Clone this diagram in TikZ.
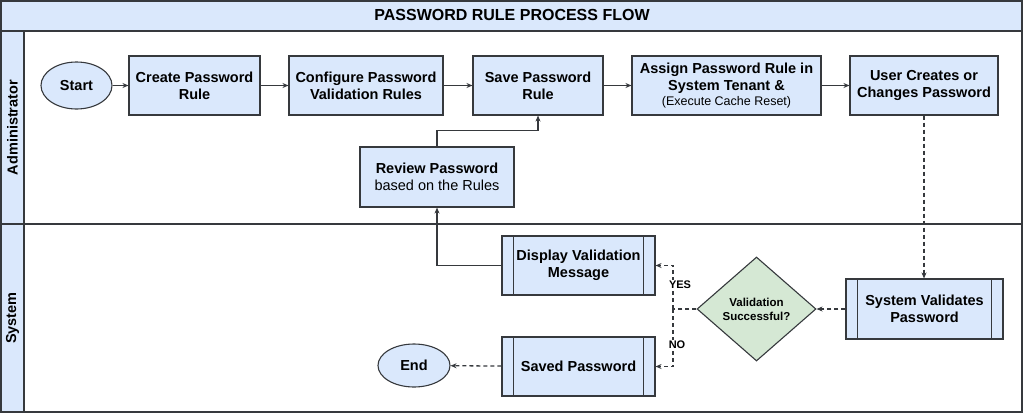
\documentclass[tikz,border=0pt]{standalone}
\usepackage{fontspec}
\setmainfont{Liberation Sans}
\usetikzlibrary{shapes.geometric,arrows.meta}

\definecolor{laneblue}{HTML}{DAE8FC}
\definecolor{decgreen}{HTML}{D5E8D4}
\definecolor{edge}{HTML}{36393D}

\tikzset{
  proc/.style={draw=edge, line width=1.1pt, fill=laneblue, rectangle, align=center,
    minimum height=59pt, inner sep=0pt, font=\fontsize{14.5}{17}\selectfont\bfseries},
  subproc/.style={proc, path picture={
    \draw[edge, line width=1.1pt] ([xshift=11.5pt]path picture bounding box.north west) -- ([xshift=11.5pt]path picture bounding box.south west);
    \draw[edge, line width=1.1pt] ([xshift=-11.5pt]path picture bounding box.north east) -- ([xshift=-11.5pt]path picture bounding box.south east);}},
  term/.style={draw=edge, line width=1.1pt, fill=laneblue, ellipse, inner sep=0pt,
    font=\fontsize{14.5}{17}\selectfont\bfseries},
  decision/.style={draw=edge, line width=1.1pt, fill=decgreen, diamond, inner sep=0pt, align=center,
    minimum width=119pt, minimum height=104pt, font=\fontsize{11.5}{14}\selectfont\bfseries},
  flow/.style={draw=edge, line width=1.1pt, -{Stealth[length=6pt,width=5pt]}},
  dflow/.style={flow, line width=1.3pt, dash pattern=on 4pt off 3pt},
  lbl/.style={fill=white, inner sep=1pt, font=\fontsize{11}{13}\selectfont\bfseries},
}

\begin{document}
\begin{tikzpicture}[x=1pt, y=-1pt]
    \useasboundingbox (0,0) rectangle (1024,415);

    % pool and lanes
    \fill[laneblue] (1,1) rectangle (1022,31);
    \fill[laneblue] (1,31) rectangle (24,412);
    \draw[edge, line width=1.6pt] (1,1) rectangle (1022,412);
    \draw[edge, line width=1.6pt] (1,31) -- (1022,31);
    \draw[edge, line width=1.3pt] (1,224) -- (1022,224);
    \draw[edge, line width=1.3pt] (24,31) -- (24,412);
    \node (title) at (512,15) {\fontsize{16}{18}\selectfont\bfseries PASSWORD RULE PROCESS FLOW};
    \node[rotate=90] (admin) at (12.5,127.5) {\fontsize{14.5}{17}\selectfont\bfseries Administrator};
    \node[rotate=90] (system) at (12.5,318) {\fontsize{14.5}{17}\selectfont\bfseries System};

    % administrator lane
    \node[term, minimum width=71pt, minimum height=47pt] (start) at (76.5,85.5) {Start};
    \node[proc, minimum width=131pt] (create) at (194.5,85.5) {Create Password\\Rule};
    \node[proc, minimum width=154pt] (config) at (366,85.5) {Configure Password\\Validation Rules};
    \node[proc, minimum width=130pt] (save) at (538,85.5) {Save Password\\Rule};
    \node[proc, minimum width=189pt] (assign) at (726.5,85.5) {Assign Password Rule in\\System Tenant \&\\[-2pt]{\fontsize{12.5}{15}\selectfont\mdseries (Execute Cache Reset)}};
    \node[proc, minimum width=148pt] (user) at (924,85.5) {User Creates or\\Changes Password};
    \node[proc, minimum width=154pt, minimum height=60pt] (review) at (437,177) {Review Password\\{\mdseries based on the Rules}};

    % system lane
    \node[subproc, minimum width=153pt] (display) at (578.5,265.5) {Display Validation\\Message};
    \node[subproc, minimum width=153pt] (saved) at (578.5,366.5) {Saved Password};
    \node[subproc, minimum width=157pt, minimum height=60pt] (sysval) at (924.5,309) {System Validates\\Password};
    \node[decision] (valid) at (756.5,309) {Validation\\Successful?};
    \node[term, minimum width=72pt, minimum height=43pt] (end) at (414,365.5) {End};
    \coordinate (split) at (673,309);

    % connectors
    \draw[flow] (start) -- (create);
    \draw[flow] (create) -- (config);
    \draw[flow] (config) -- (save);
    \draw[flow] (save) -- (assign);
    \draw[flow] (assign) -- (user);
    \draw[flow] (review.north) -- ++(0,-16) -| (save.south);
    \draw[flow] (display.west) -| (review.south);
    \draw[dflow] (user.south) -- (user.south |- sysval.north);
    \draw[dflow] (sysval) -- (valid);
    \draw[dflow, -] (valid.west) -- (split);
    \draw[dflow] (split) |- node[lbl, pos=0.28, xshift=7pt] {YES} (display.east);
    \draw[dflow] (split) |- node[lbl, pos=0.31, xshift=4pt] {NO} (saved.east);
    \draw[dflow] (saved) -- (end);
\end{tikzpicture}
\end{document}
